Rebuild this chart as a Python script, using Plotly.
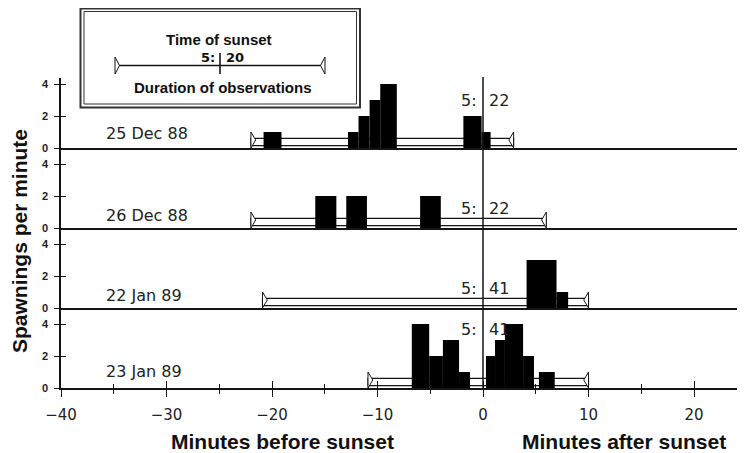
import plotly.graph_objects as go

# ---------------- data ----------------
dates = ["25 Dec 88", "26 Dec 88", "22 Jan 89", "23 Jan 89"]
sunset_hour = ["5:", "5:", "5:", "5:"]
sunset_minute = ["22", "22", "41", "41"]
obs_start = [-22.0, -22.0, -20.9, -10.9]   # minutes relative to sunset
obs_end = [2.9, 6.0, 10.0, 10.0]

dec25_start = [-20.8, -12.8, -11.8, -10.75, -9.74, -1.86, -0.13]
dec25_end = [-19.1, -11.8, -10.75, -9.74, -8.17, -0.13, 0.72]
dec25_count = [1, 1, 2, 3, 4, 2, 1]

dec26_start = [-15.9, -12.96, -5.96]
dec26_end = [-13.9, -11.0, -4.0]
dec26_count = [2, 2, 2]

jan22_start = [4.13, 6.97]
jan22_end = [6.97, 8.07]
jan22_count = [3, 1]

jan23_start = [-6.75, -5.1, -3.8, -2.27, 0.28, 1.14, 2.08, 3.8, 5.3]
jan23_end = [-5.1, -3.8, -2.27, -1.23, 1.14, 2.08, 3.8, 4.83, 6.8]
jan23_count = [4, 2, 3, 1, 2, 3, 4, 2, 1]

y_ticks = [0, 2, 4]
x_major = [-40, -30, -20, -10, 0, 10, 20]
x_minor = [-35, -25, -15, -5, 5, 15]

panels = [
    (dec25_start, dec25_end, dec25_count),
    (dec26_start, dec26_end, dec26_count),
    (jan22_start, jan22_end, jan22_count),
    (jan23_start, jan23_end, jan23_count),
]

# ---------------- layout constants ----------------
OFF = 8                      # page body margin
W, H = 745 - OFF, 453 - OFF
ML, MR, MT, MB = 61 - OFF, 0, 78 - OFF, 65
PW = W - ML - MR
PH = H - MT - MB
XR = [-40, -40 + PW / 10.55]

def pxx(x):
    """page pixel x -> paper"""
    return (x - OFF - ML) / PW

def pxy(y):
    """page pixel y -> paper"""
    return (H - MB - (y - OFF)) / PH

panel_px = [70, 80, 80, 80]           # heights of panels top->bottom
yranges = [[0, 70 / 16], [0, 5], [0, 5], [0, 5]]
date_y = [0.9, 0.8, 0.78, 1.06]
sunset_y = [2.97, 1.25, 1.25, 3.64]
rect_lo, rect_hi = 0.15, 0.6
tri_lo, tri_hi, tri_w = 0.0, 1.0, 0.45

INK = "#151515"
NUMFONT = "DejaVu Sans"
BOLDFONT = "Liberation Sans"

fig = go.Figure()
layout = dict(
    width=W, height=H,
    margin=dict(l=ML, r=MR, t=MT, b=MB, pad=0, autoexpand=False),
    paper_bgcolor="white", plot_bgcolor="white",
    showlegend=False, barmode="overlay",
    annotations=[], shapes=[],
)

# domains
tops = []
acc = PH
for h in panel_px:
    tops.append((acc / PH, (acc - h) / PH))
    acc -= h

for i, (starts, ends, counts) in enumerate(panels):
    n = i + 1
    xa = f"x{n}" if n > 1 else "x"
    ya = f"y{n}" if n > 1 else "y"
    top, bot = tops[i]
    bottom_panel = (n == 4)

    # observation duration bar
    s, e = obs_start[i], obs_end[i]
    fig.add_trace(go.Bar(
        x=[(s + e) / 2], y=[rect_hi - rect_lo], base=[rect_lo], width=[e - s],
        marker=dict(color="white", line=dict(color=INK, width=1.2)),
        xaxis=xa, yaxis=ya, hoverinfo="skip"))
    # spawning bars
    fig.add_trace(go.Bar(
        x=[(a + b) / 2 for a, b in zip(starts, ends)],
        y=counts, base=[0] * len(counts),
        width=[b - a for a, b in zip(starts, ends)],
        marker=dict(color="black", line=dict(width=0)),
        xaxis=xa, yaxis=ya))
    # end triangles
    fig.add_trace(go.Scatter(
        x=[s, s, s + tri_w, s, None, e, e, e - tri_w, e],
        y=[tri_lo, tri_hi, (tri_lo + tri_hi) / 2, tri_lo, None,
           tri_lo, tri_hi, (tri_lo + tri_hi) / 2, tri_lo],
        mode="lines", fill="toself", fillcolor="white",
        line=dict(color=INK, width=1), xaxis=xa, yaxis=ya, hoverinfo="skip"))
    # invisible trace for overlay y axis
    fig.add_trace(go.Scatter(x=[XR[0]], y=[0], mode="markers",
                             marker=dict(opacity=0), xaxis=xa,
                             yaxis=f"y{n + 4}", hoverinfo="skip"))

    xkey = "xaxis" if n == 1 else f"xaxis{n}"
    ykey = "yaxis" if n == 1 else f"yaxis{n}"
    layout[xkey] = dict(
        domain=[0, 1], anchor=ya, range=XR, showgrid=False, zeroline=False,
        showline=True, linecolor=INK, linewidth=1.6, automargin=False,
        ticks="outside" if bottom_panel else "",
        showticklabels=bottom_panel,
    )
    if bottom_panel:
        layout[xkey].update(
            tickmode="array", tickvals=x_major, ticklen=7, tickwidth=1.4,
            tickcolor=INK, ticklabelstandoff=5,
            tickfont=dict(family=NUMFONT, size=15, color="#222"),
            minor=dict(tickmode="array", tickvals=x_minor, ticks="outside",
                       ticklen=4, tickwidth=1.2, tickcolor=INK),
        )
    layout[ykey] = dict(
        domain=[bot, top], anchor=xa, range=yranges[i], showgrid=False,
        zeroline=False, showline=True, linecolor=INK, linewidth=1.6,
        automargin=False,
        ticks="outside", ticklen=5, tickwidth=1.4, tickcolor=INK,
        tickmode="array", tickvals=y_ticks, ticklabelstandoff=4,
        tickfont=dict(family=BOLDFONT, size=11, color="#222", weight="bold"),
    )
    layout[f"yaxis{n + 4}"] = dict(
        overlaying=ya, anchor=xa, side="left", range=yranges[i],
        showgrid=False, zeroline=False, showline=False, automargin=False,
        ticks="inside", ticklen=5, tickwidth=1.4, tickcolor=INK,
        mirror="ticks", tickmode="array", tickvals=y_ticks,
        showticklabels=False,
    )

    # date label
    layout["annotations"].append(dict(
        x=-35.9, y=date_y[i], xref=xa, yref=ya, text=dates[i],
        showarrow=False, xanchor="left", yanchor="middle",
        font=dict(family=NUMFONT, size=16, color="#222")))
    # sunset time labels
    layout["annotations"].append(dict(
        x=0, y=sunset_y[i], xref=xa, yref=ya, text=sunset_hour[i],
        showarrow=False, xanchor="right", yanchor="middle", xshift=-4,
        font=dict(family=NUMFONT, size=16, color="#222")))
    layout["annotations"].append(dict(
        x=0, y=sunset_y[i], xref=xa, yref=ya, text=sunset_minute[i],
        showarrow=False, xanchor="left", yanchor="middle", xshift=4,
        font=dict(family=NUMFONT, size=16, color="#222")))

# overlay x axis for crossing ticks on bottom axis
fig.add_trace(go.Scatter(x=[XR[0]], y=[0], mode="markers",
                         marker=dict(opacity=0), xaxis="x5", yaxis="y4",
                         hoverinfo="skip"))
layout["xaxis5"] = dict(
    overlaying="x4", anchor="y4", side="bottom", range=XR, automargin=False,
    showgrid=False, zeroline=False, showline=False,
    ticks="inside", tickmode="array", tickvals=x_major, ticklen=7,
    tickwidth=1.4, tickcolor=INK, showticklabels=False,
    minor=dict(tickmode="array", tickvals=x_minor, ticks="inside",
               ticklen=4, tickwidth=1.2, tickcolor=INK),
)

# sunset line across all panels
layout["shapes"].append(dict(
    type="line", xref="x4", yref="paper", x0=0, x1=0, y0=0, y1=pxy(77),
    line=dict(color=INK, width=1.5), layer="above"))

def ptext(x, y, text, size, family=BOLDFONT, xanchor="center", angle=0):
    return dict(x=pxx(x), y=pxy(y), xref="paper", yref="paper", text=text,
                showarrow=False, xanchor=xanchor, yanchor="middle",
                textangle=angle,
                font=dict(family=family, size=size, color="#111",
                          weight="bold"))

# axis titles
layout["annotations"] += [
    ptext(19, 241, "Spawnings per minute", 21, angle=-90),
    ptext(282, 441, "Minutes before sunset", 21),
    ptext(624, 441, "Minutes after sunset", 21),
]

# key box
layout["shapes"] += [
    dict(type="rect", xref="paper", yref="paper",
         x0=pxx(80.5), x1=pxx(360), y0=pxy(107.5), y1=pxy(8.5),
         line=dict(color="#333", width=2), fillcolor="white", layer="above"),
    dict(type="rect", xref="paper", yref="paper",
         x0=pxx(84), x1=pxx(356.5), y0=pxy(104), y1=pxy(11.5),
         line=dict(color="#333", width=1), layer="above"),
    dict(type="line", xref="paper", yref="paper",
         x0=pxx(117), x1=pxx(322), y0=pxy(65.5), y1=pxy(65.5),
         line=dict(color=INK, width=1.5), layer="above"),
    dict(type="line", xref="paper", yref="paper",
         x0=pxx(220), x1=pxx(220), y0=pxy(74), y1=pxy(53),
         line=dict(color=INK, width=1.6), layer="above"),
    dict(type="path", xref="paper", yref="paper",
         path=f"M{pxx(115)},{pxy(57)} L{pxx(115)},{pxy(74)} L{pxx(119.5)},{pxy(65.5)} Z",
         line=dict(color=INK, width=1), fillcolor="white", layer="above"),
    dict(type="path", xref="paper", yref="paper",
         path=f"M{pxx(325)},{pxy(57)} L{pxx(325)},{pxy(74)} L{pxx(320.5)},{pxy(65.5)} Z",
         line=dict(color=INK, width=1), fillcolor="white", layer="above"),
]
layout["annotations"] += [
    ptext(218.5, 39, "Time of sunset", 15),
    ptext(217, 57, "5:", 13, family=NUMFONT, xanchor="right"),
    ptext(224, 57, "20", 13, family=NUMFONT, xanchor="left"),
    ptext(223, 87.5, "Duration of observations", 15),
]

fig.update_layout(**layout)
fig.write_html("out.html")
